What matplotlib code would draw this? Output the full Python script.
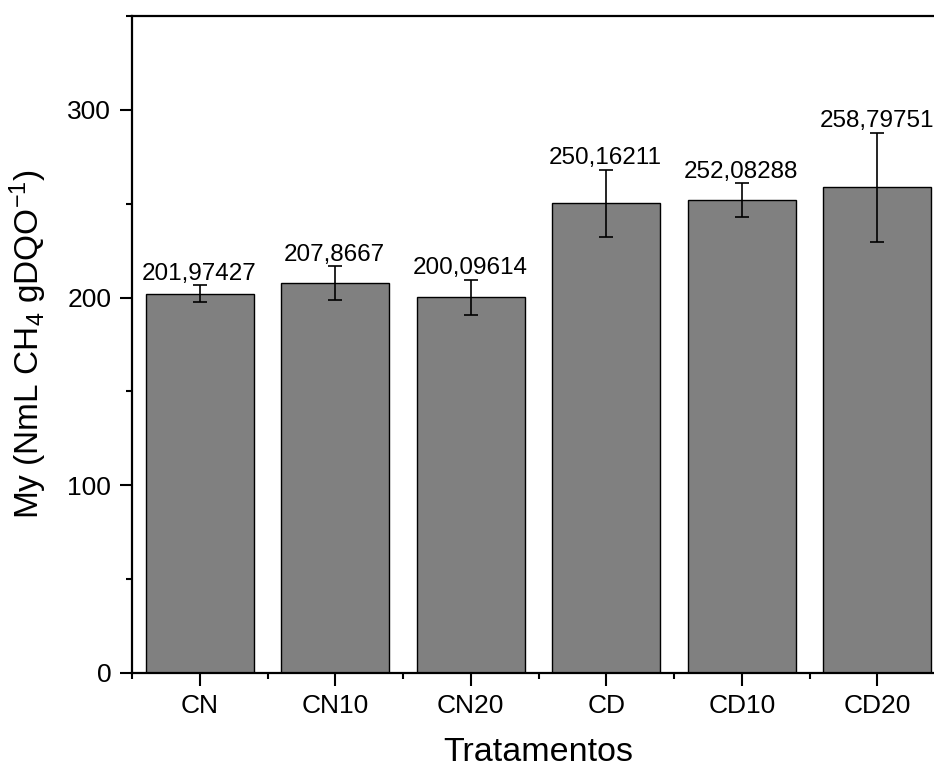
import numpy as np
import matplotlib
matplotlib.use("Agg")
import matplotlib.pyplot as plt
from matplotlib.ticker import MultipleLocator, FixedLocator

plt.rcParams['font.family'] = ['Liberation Sans', 'DejaVu Sans']
plt.rcParams['mathtext.fontset'] = 'custom'
plt.rcParams['mathtext.rm'] = 'Liberation Sans'
plt.rcParams['mathtext.it'] = 'Liberation Sans:italic'

# dados
tratamentos = ['CN', 'CN10', 'CN20', 'CD', 'CD10', 'CD20']
my_valores = [201.97427, 207.8667, 200.09614, 250.16211, 252.08288, 258.79751]
desvios = [4.5, 8.9, 9.5, 18.0, 8.9, 29.0]
rotulos = ['201,97427', '207,8667', '200,09614', '250,16211', '252,08288', '258,79751']

fig = plt.figure(figsize=(9.34, 7.69), dpi=100)
# eixo vai alem da borda direita (como no original, cortado)
ax = fig.add_axes([132 / 934, 1 - 673 / 769, 813 / 934, 657 / 769])

x = np.arange(len(tratamentos))
ax.bar(x, my_valores, width=0.8, color='#808080', edgecolor='black', linewidth=1.0,
       yerr=desvios, capsize=5, error_kw=dict(ecolor='black', elinewidth=1.2, capthick=1.2))

for xi, v, d, r in zip(x, my_valores, desvios, rotulos):
    ax.annotate(r, (xi, v + d), xytext=(-0.5, 4), textcoords='offset points',
                ha='center', va='baseline', fontsize=17.5)

ax.set_xlim(-0.5, 5.5)
ax.set_ylim(0, 350)
ax.set_xticks(x)
ax.set_xticklabels(tratamentos)
ax.xaxis.set_minor_locator(FixedLocator(np.arange(-0.5, 6, 1)))
ax.yaxis.set_major_locator(MultipleLocator(100))
ax.yaxis.set_minor_locator(MultipleLocator(50))

for s in ax.spines.values():
    s.set_linewidth(1.6)

ax.tick_params(which='major', direction='out', length=9, width=1.5, labelsize=19, pad=6)
ax.tick_params(which='minor', direction='out', length=4.5, width=1.5)
ax.tick_params(top=False, right=False, which='both')

ax.set_xlabel('Tratamentos', fontsize=24.5, labelpad=14)
ax.set_ylabel('My (NmL CH$_4$ gDQO$^{-1}$)', fontsize=24, labelpad=13)

fig.savefig('out.png', dpi=100)
